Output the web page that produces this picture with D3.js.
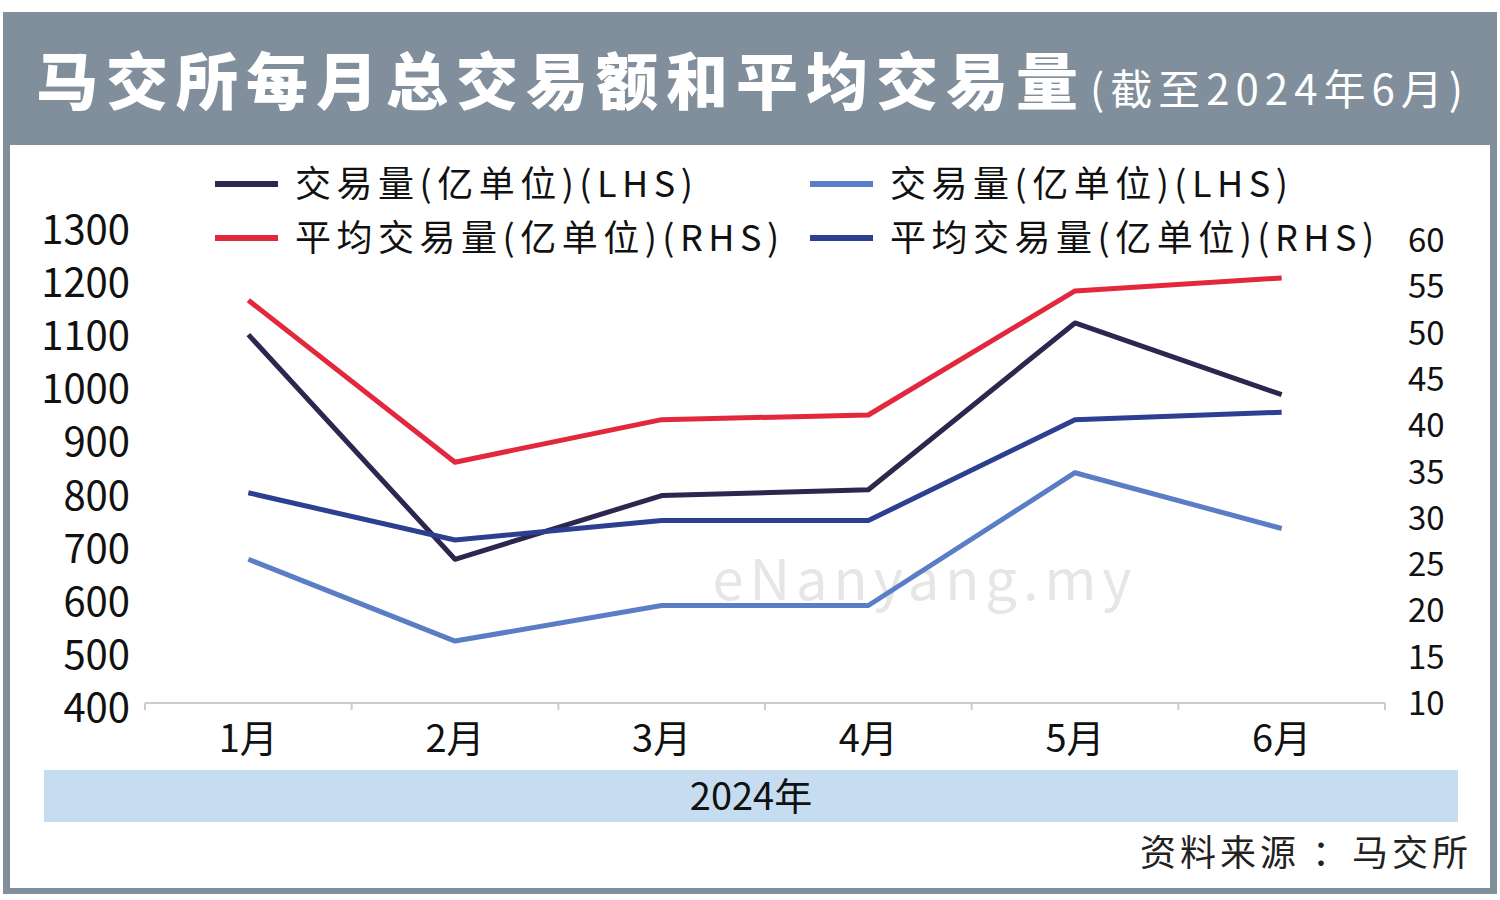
<!DOCTYPE html>
<html><head><meta charset="utf-8">
<script src="https://cdn.jsdelivr.net/npm/d3@7"></script>
<style>body{margin:0;background:#fff}svg{display:block}text{font-family:"Noto Sans CJK SC","Noto Sans",sans-serif}</style>
</head><body><svg id="c" width="1500" height="900"></svg>
<script>
const months=["1月","2月","3月","4月","5月","6月"];
const volA=[1103,680,800,811,1125,990];
const volB=[680,526,593,593,843,738];
const avgA=[53.5,36,40.6,41.1,54.5,55.9];
const avgB=[32.7,27.6,29.7,29.7,40.6,41.4];
const leftTicks=[400,500,600,700,800,900,1000,1100,1200,1300];
const rightTicks=[10,15,20,25,30,35,40,45,50,55,60];
const svg=d3.select("#c");
svg.append("rect").attr("x",3).attr("y",12).attr("width",1494).attr("height",882).attr("fill","#808f9b");
svg.append("rect").attr("x",10).attr("y",145).attr("width",1480).attr("height",743).attr("fill","#fff");
const t=svg.append("text").attr("x",36).attr("y",105).attr("fill","#fff");
t.append("tspan").text("马交所每月总交易额和平均交易量").attr("font-size",62).attr("font-weight",900).attr("letter-spacing",8);
t.append("tspan").text("(截至2024年6月)").attr("font-size",42).attr("dx",4).attr("letter-spacing",6);
const x=d3.scaleBand().domain(months).range([145,1385]);
const yL=d3.scaleLinear().domain([400,1300]).range([708,230]);
const yR=d3.scaleLinear().domain([10,60]).range([703,240]);
svg.append("line").attr("x1",145).attr("x2",1385).attr("y1",703).attr("y2",703).attr("stroke","#ccc").attr("stroke-width",2);
const bounds=d3.range(7).map(i=>145+i*x.step());
svg.selectAll(".tk").data(bounds).join("line").attr("x1",d=>d).attr("x2",d=>d).attr("y1",703).attr("y2",710).attr("stroke","#ccc").attr("stroke-width",2);
svg.selectAll(".ml").data(months).join("text").attr("x",d=>x(d)+x.bandwidth()/2).attr("y",752).attr("text-anchor","middle").attr("font-size",38).attr("fill","#111").text(d=>d);
svg.selectAll(".lt").data(leftTicks).join("text").attr("x",130).attr("y",d=>yL(d)+14).attr("text-anchor","end").attr("font-size",40).attr("fill","#111").attr("font-family","Liberation Sans").text(d=>d);
svg.selectAll(".rt").data(rightTicks).join("text").attr("x",1408).attr("y",d=>yR(d)+12).attr("font-size",33).attr("fill","#111").attr("font-family","Liberation Sans").text(d=>d);
svg.append("rect").attr("x",44).attr("y",770).attr("width",1414).attr("height",52).attr("fill","#c6ddf1");
svg.append("text").attr("x",751).attr("y",810).attr("text-anchor","middle").attr("font-size",38).attr("fill","#111").text("2024年");
svg.append("text").attr("x",1472).attr("y",866).attr("text-anchor","end").attr("font-size",36).attr("fill","#222").attr("letter-spacing",4).text("资料来源 ：马交所");
svg.append("text").attr("x",925).attr("y",600).attr("text-anchor","middle").attr("font-size",56).attr("fill","#e6e6e6").attr("letter-spacing",6).text("eNanyang.my");
const series=[{v:volA,s:yL,c:"#2d2750"},{v:volB,s:yL,c:"#5a7dc5"},{v:avgA,s:yR,c:"#e3283d"},{v:avgB,s:yR,c:"#2c3f90"}];
series.forEach(o=>{
 const line=d3.line().x((d,i)=>x(months[i])+x.bandwidth()/2).y(d=>o.s(d));
 svg.append("path").attr("d",line(o.v)).attr("fill","none").attr("stroke",o.c).attr("stroke-width",5).attr("stroke-linejoin","round");
});
const leg=[{t:"交易量(亿单位)(LHS)",c:"#2d2750",x:215,y:184},{t:"交易量(亿单位)(LHS)",c:"#5a7dc5",x:810,y:184},{t:"平均交易量(亿单位)(RHS)",c:"#e3283d",x:215,y:238},{t:"平均交易量(亿单位)(RHS)",c:"#2c3f90",x:810,y:238}];
leg.forEach(l=>{
 svg.append("line").attr("x1",l.x).attr("x2",l.x+63).attr("y1",l.y).attr("y2",l.y).attr("stroke",l.c).attr("stroke-width",6);
 svg.append("text").attr("x",l.x+80).attr("y",l.y+13).attr("font-size",36).attr("fill","#111").attr("letter-spacing",5.5).text(l.t);
});
</script></body></html>
